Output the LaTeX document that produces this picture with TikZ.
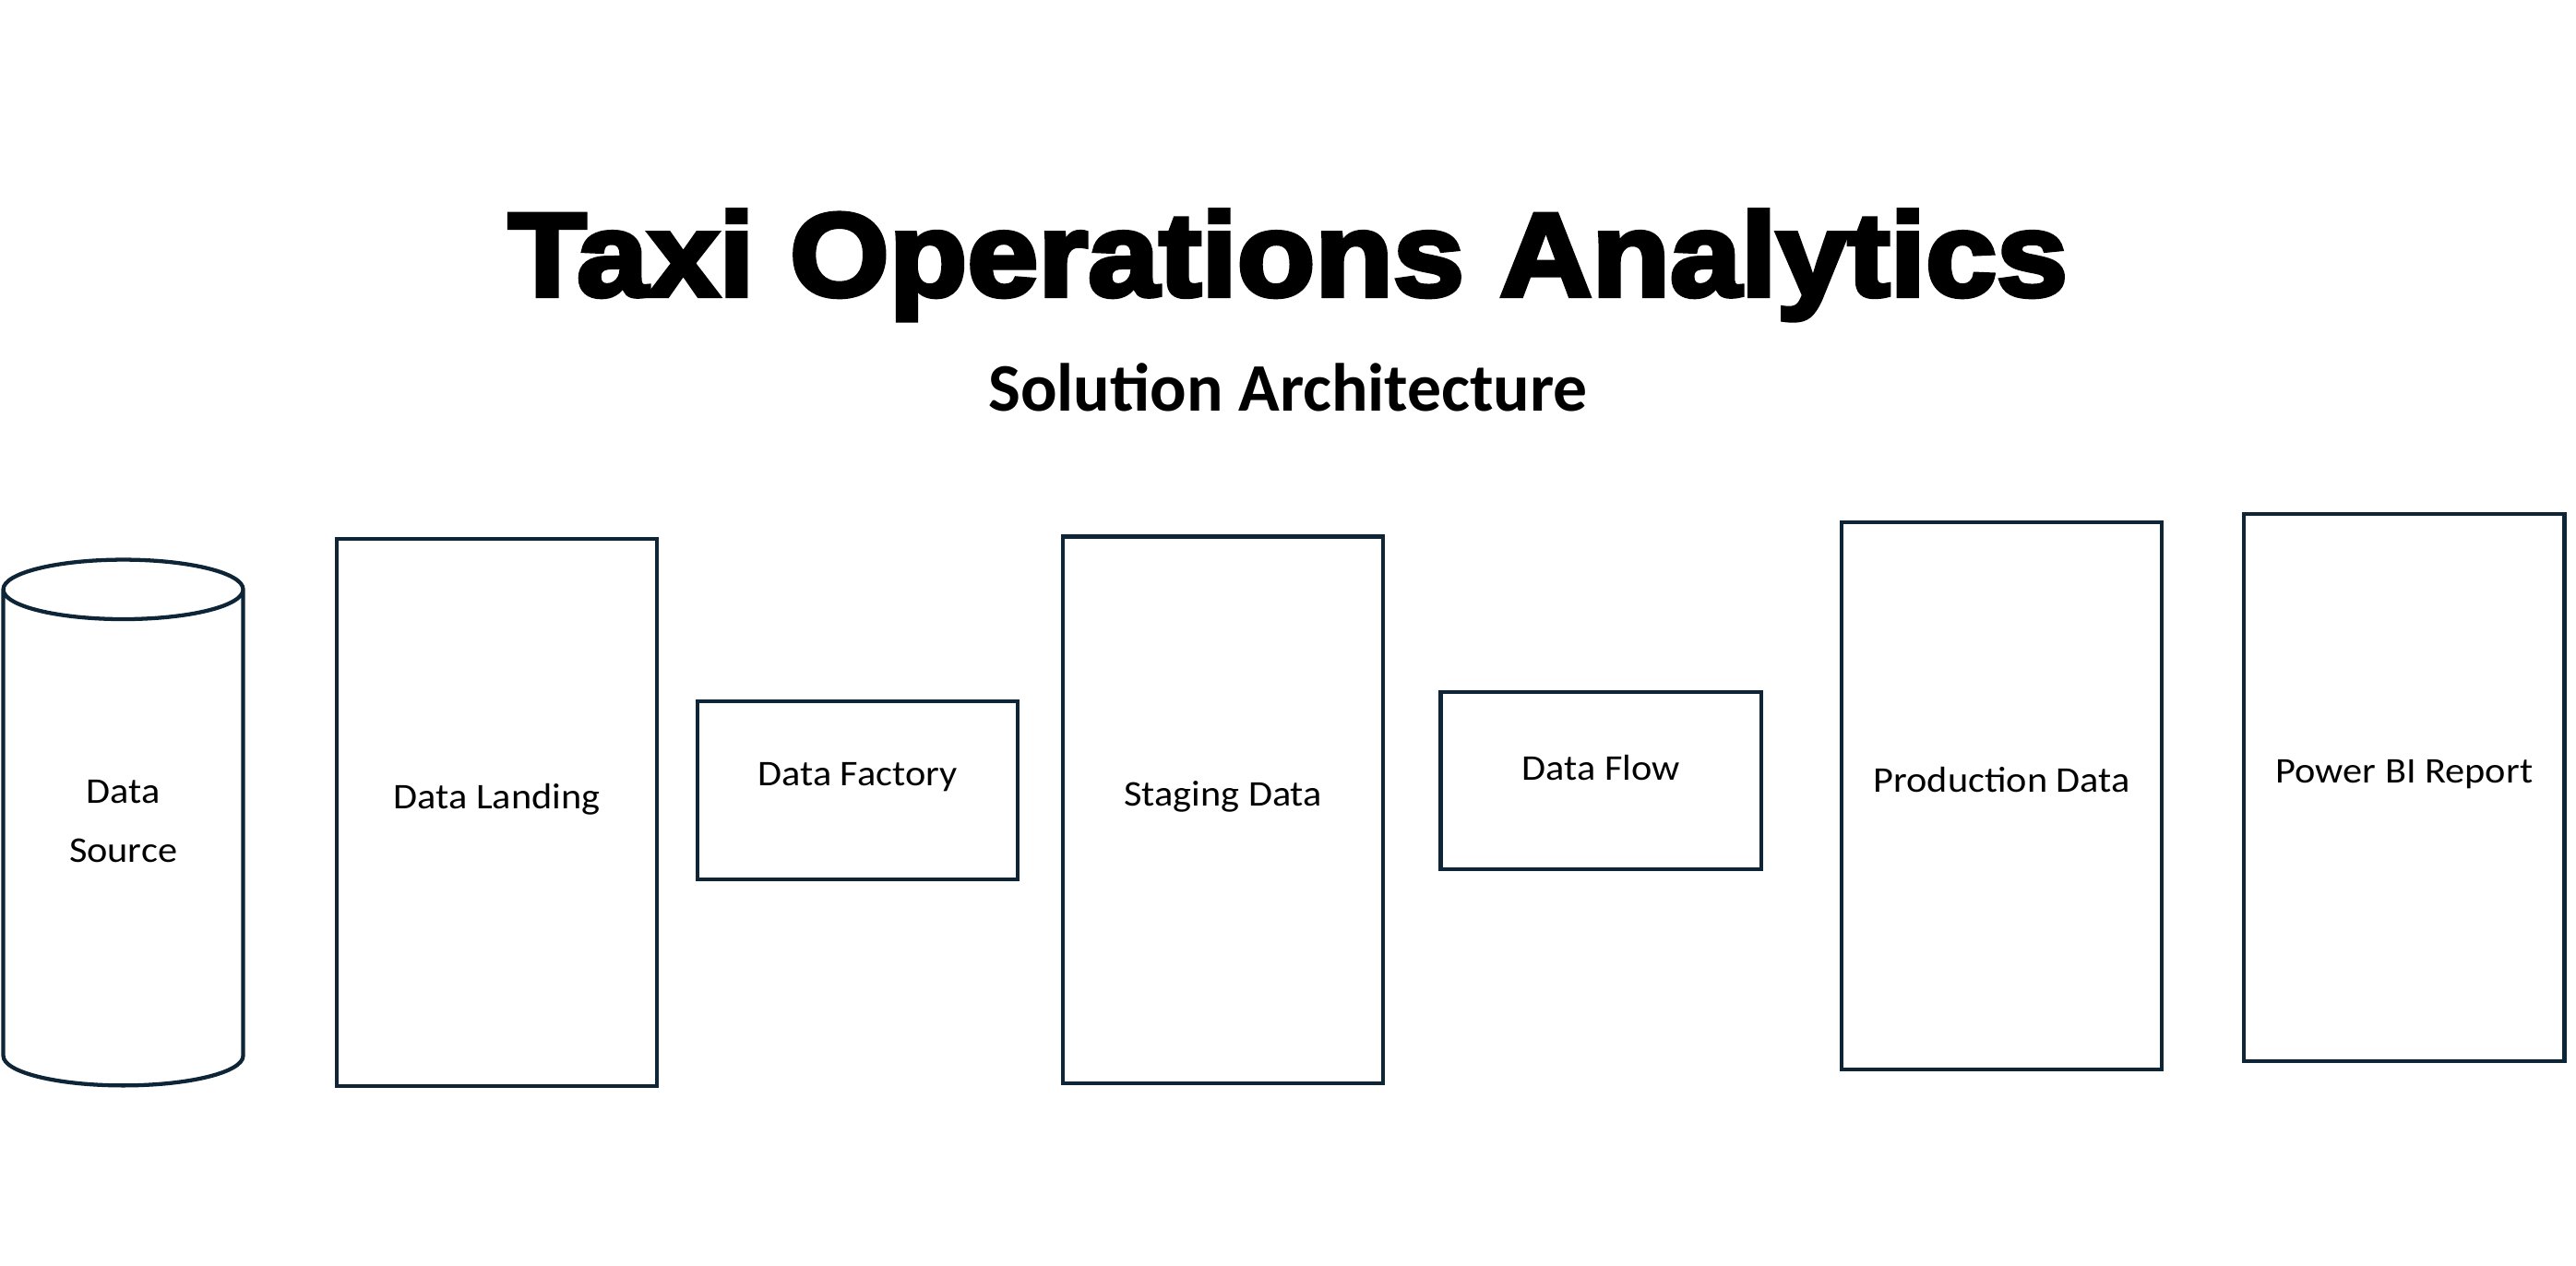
\documentclass[tikz,border=0pt]{standalone}
\usepackage{fontspec}
\usetikzlibrary{shapes.geometric}
\setmainfont{Carlito}
\newfontfamily\titlefont[FakeBold=4, FakeStretch=1.08]{Liberation Sans Bold}
\newfontfamily\lblfont[FakeStretch=1.08]{Carlito}
\definecolor{navy}{HTML}{0D2536}
\tikzset{
  stage/.style={draw=navy, line width=2.4pt, rectangle, minimum width=195pt},
  tall/.style={stage, minimum height=333pt},
  short/.style={stage, minimum height=108pt},
  lbl/.style={font=\lblfont\fontsize{22}{26}\selectfont, yshift=8pt},
  srcfont/.style={font=\lblfont\fontsize{22}{36}\selectfont, align=center},
}
\begin{document}
\begin{tikzpicture}[x=1pt, y=-1pt]
\useasboundingbox (0,0) rectangle (1568,770.5);
\node[font=\titlefont\fontsize{72}{80}\selectfont, anchor=base] (title) at (784,180) {Taxi Operations Analytics};
\node[font=\bfseries\fontsize{41.4}{46}\selectfont, anchor=base] (subtitle) at (784,250) {Solution Architecture};
\node[cylinder, shape border rotate=90, draw=navy, line width=2.4pt, minimum width=146pt, minimum height=320pt, aspect=0.5, srcfont,
  label={[srcfont, yshift=13pt]center:Data\\Source}] (ds) at (75,513) {\phantom{Data}\\\phantom{Source}};
\node[tall, label={[lbl]center:Data Landing}] (dl) at (302.5,494.5) {};
\node[short, label={[lbl]center:Data Factory}] (df) at (522,481) {};
\node[tall, label={[lbl]center:Staging Data}] (sd) at (744.5,493) {};
\node[short, label={[lbl]center:Data Flow}] (dfl) at (974.5,475) {};
\node[tall, label={[lbl, yshift=2pt]center:Production Data}] (pd) at (1218.5,484.5) {};
\node[tall, label={[lbl]center:Power BI Report}] (pbi) at (1463.5,479.5) {};
\end{tikzpicture}
\end{document}
